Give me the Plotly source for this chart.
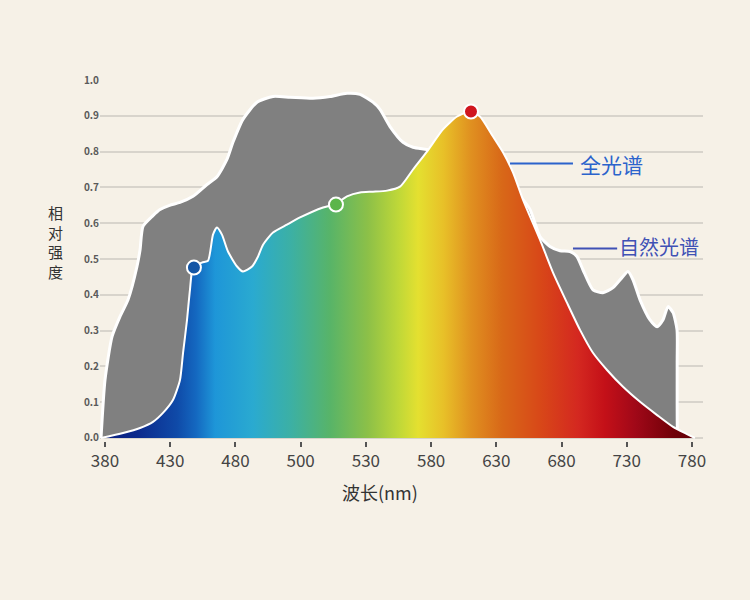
import plotly.graph_objects as go

# 横轴刻度（等间距显示）
tick_labels = ["380", "430", "480", "500", "530", "580", "630", "680", "730", "780"]
tick_pos = [380 + i * 400 / 9 for i in range(len(tick_labels))]

# 自然光谱
natural_x = [377.3, 380.0, 384.8, 390.2, 395.7, 401.8, 403.9, 405.9, 412.7, 417.5,
             424.0, 431.1, 440.0, 449.5, 456.3, 463.1, 467.2, 474.0, 483.6, 494.5,
             506.1, 521.7, 533.3, 544.9, 553.8, 562.6, 567.4, 574.2, 583.1, 589.9,
             599.4, 615.1, 635.5, 652.6, 662.8, 669.6, 676.4, 683.2, 690.1, 696.9,
             701.6, 705.7, 712.5, 719.3, 726.2, 732.3, 736.4, 739.8, 744.6, 751.4,
             756.2, 760.2, 763.7, 767.1, 769.8, 769.9, 770.0, 770.5]
natural_y = [0.0, 0.162, 0.283, 0.339, 0.386, 0.479, 0.526, 0.591, 0.621, 0.638,
             0.650, 0.658, 0.675, 0.708, 0.730, 0.778, 0.826, 0.890, 0.938, 0.954,
             0.952, 0.949, 0.954, 0.963, 0.960, 0.938, 0.918, 0.870, 0.826, 0.812,
             0.806, 0.792, 0.764, 0.716, 0.675, 0.638, 0.563, 0.535, 0.523, 0.521,
             0.507, 0.470, 0.414, 0.406, 0.420, 0.448, 0.465, 0.442, 0.386, 0.330,
             0.311, 0.330, 0.367, 0.350, 0.302, 0.210, 0.031, 0.0]

# 全光谱
full_x = [377.3, 392.3, 403.9, 412.7, 419.5, 426.3, 431.1, 433.2, 435.9, 437.9,
          440.0, 446.1, 450.2, 453.6, 456.3, 459.7, 463.8, 470.0, 474.0, 480.2,
          484.3, 487.7, 494.5, 504.0, 512.9, 528.6, 537.4, 544.9, 553.8, 562.6,
          572.2, 581.0, 589.9, 599.4, 610.3, 619.9, 628.7, 635.5, 644.4, 651.2,
          658.0, 664.8, 676.4, 685.3, 694.8, 703.7, 712.5, 722.1, 733.0, 744.6,
          756.2, 767.1, 776.6, 782.0]
full_y = [0.0, 0.014, 0.028, 0.045, 0.070, 0.106, 0.162, 0.238, 0.330, 0.414,
          0.476, 0.490, 0.495, 0.568, 0.588, 0.568, 0.521, 0.479, 0.465, 0.479,
          0.507, 0.540, 0.574, 0.596, 0.616, 0.644, 0.654, 0.675, 0.686, 0.688,
          0.691, 0.702, 0.750, 0.800, 0.862, 0.898, 0.912, 0.898, 0.842, 0.798,
          0.742, 0.666, 0.554, 0.462, 0.378, 0.302, 0.238, 0.190, 0.143, 0.101,
          0.064, 0.031, 0.011, 0.0]

# 标记点
dot_x = [440.6, 537.4, 629.4]
dot_y = [0.476, 0.652, 0.912]
dot_colors = ["#1456a6", "#5cb54a", "#d0161e"]

# 光谱渐变色
spectrum = [
    [0.0, "#0a2080"], [0.062, "#0c2a8c"], [0.128, "#0f4aa8"], [0.160, "#1468c0"],
    [0.192, "#1e96d8"], [0.256, "#2aaad0"], [0.320, "#3cb0a4"], [0.386, "#58b468"],
    [0.449, "#8cc048"], [0.502, "#c0d838"], [0.534, "#e4e030"], [0.577, "#e8c028"],
    [0.623, "#e09020"], [0.675, "#d86818"], [0.739, "#d84818"], [0.803, "#d42820"],
    [0.848, "#c41018"], [0.900, "#a00818"], [0.965, "#700008"], [1.0, "#600008"],
]

bg = "#f6f1e7"
cjk = "Noto Sans CJK SC"

fig = go.Figure()

fig.add_trace(go.Scatter(
    x=natural_x, y=natural_y, mode="lines", fill="tozeroy",
    fillcolor="#808080", line=dict(color="white", width=3, shape="spline", smoothing=0.6),
    hoverinfo="skip", showlegend=False
))

fig.add_trace(go.Scatter(
    x=full_x, y=full_y, mode="lines", fill="tozeroy",
    fillgradient=dict(type="horizontal", colorscale=spectrum,
                      start=full_x[0], stop=full_x[-1]),
    line=dict(color="white", width=2, shape="spline", smoothing=0.6),
    hoverinfo="skip", showlegend=False
))

fig.add_trace(go.Scatter(
    x=dot_x, y=dot_y, mode="markers",
    marker=dict(size=14, color=dot_colors, line=dict(color="white", width=2)),
    cliponaxis=False, hoverinfo="skip", showlegend=False
))

# 图例引线
fig.add_shape(type="line", x0=656.0, x1=698.9, y0=0.767, y1=0.767,
              line=dict(color="#2b63cc", width=2))
fig.add_shape(type="line", x0=698.9, x1=729.0, y0=0.529, y1=0.529,
              line=dict(color="#3f51b5", width=2))

fig.add_annotation(x=702.5, y=0.766, text="全光谱", showarrow=False,
                   xanchor="left", yanchor="middle",
                   font=dict(family=cjk, size=21, color="#2b63cc"))
fig.add_annotation(x=729.0, y=0.536, text="自然光谱", showarrow=False,
                   xanchor="left", yanchor="middle",
                   font=dict(family=cjk, size=20, color="#3f51b5"))

# 纵轴标题：竖排
fig.add_annotation(x=55, y=242, xref="paper", yref="paper", text="<br>".join("相对强度"),
                   showarrow=False, xanchor="center", yanchor="middle",
                   font=dict(family=cjk, size=15, color="#333333"))
fig.add_annotation(x=380, y=492, xref="paper", yref="paper", text="波长(nm)",
                   showarrow=False, xanchor="center", yanchor="middle",
                   font=dict(family=cjk, size=18, color="#333333"))

# 把像素位置换成 paper 坐标
for a in fig.layout.annotations:
    if a.xref == "paper":
        a.x = (a.x - 100) / 603
        a.y = (441 - a.y) / 361

fig.update_layout(
    width=750, height=600,
    margin=dict(l=100, r=47, t=80, b=159),
    paper_bgcolor=bg, plot_bgcolor=bg,
    xaxis=dict(range=[376.6, 787.5], tickvals=tick_pos, ticktext=tick_labels,
               showgrid=False, zeroline=False, showline=False,
               ticks="outside", ticklen=5, tickwidth=2, tickcolor="#555555",
               tickfont=dict(family=cjk, size=17, color="#444444")),
    yaxis=dict(range=[-0.0084, 1.0], tickvals=[i / 10 for i in range(11)],
               tickformat=".1f", showgrid=True, gridcolor="#d8d4cc", gridwidth=2,
               zeroline=False, showline=False, ticks="",
               tickfont=dict(family=cjk, size=10, color="#5a5a5a", weight="bold")),
)

page_fix = ("document.body.style.margin='0';"
            "document.body.style.overflow='hidden';"
            "document.body.style.background='%s';" % bg)
fig.write_html("out.html", post_script=page_fix, config={"displayModeBar": False})
